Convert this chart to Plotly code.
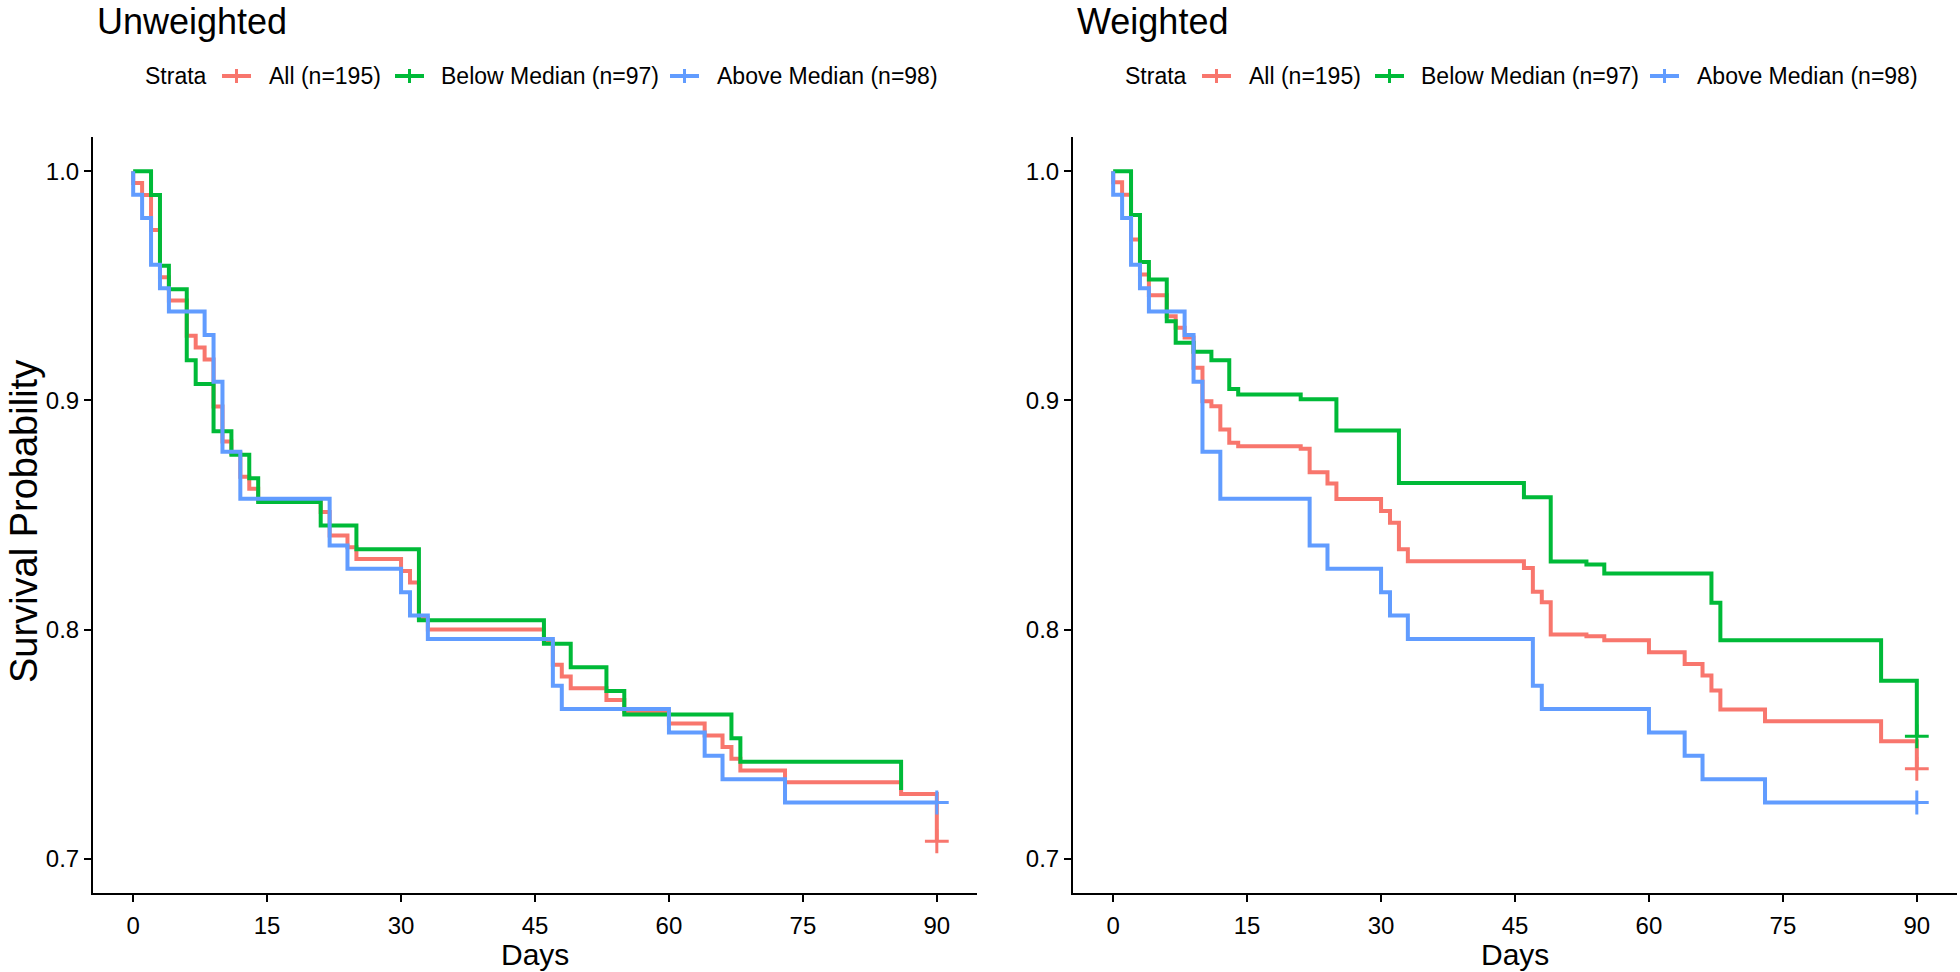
import plotly.graph_objects as go

# ---------------- data ----------------
strata_names = ["All (n=195)", "Below Median (n=97)", "Above Median (n=98)"]
strata_colors = ["#F8766D", "#00BA38", "#619CFF"]

# Unweighted
unw_all_days = [0, 0, 1, 2, 3, 4, 6, 7, 8, 9, 10, 11, 12, 13, 14, 21, 22, 24, 25, 30, 31, 32, 33,
                46, 47, 48, 49, 53, 55, 60, 64, 66, 67, 68, 73, 86, 90]
unw_all_surv = [1.0, 0.9949, 0.9897, 0.9744, 0.9538, 0.9436, 0.9282, 0.9231, 0.9179, 0.8974, 0.8821,
                0.8769, 0.8667, 0.8615, 0.8564, 0.8513, 0.8410, 0.8359, 0.8308, 0.8256, 0.8205, 0.8051,
                0.8000, 0.7949, 0.7846, 0.7795, 0.7744, 0.7692, 0.7641, 0.7590, 0.7538, 0.7487, 0.7436,
                0.7385, 0.7333, 0.7282, 0.7076]
unw_below_days = [0, 2, 3, 4, 6, 7, 9, 11, 13, 14, 21, 25, 32, 46, 49, 53, 55, 67, 68, 86]
unw_below_surv = [1.0, 0.9897, 0.9588, 0.9485, 0.9175, 0.9072, 0.8866, 0.8763, 0.8660, 0.8557, 0.8454,
                  0.8351, 0.8041, 0.7938, 0.7835, 0.7732, 0.7629, 0.7526, 0.7423, 0.7300]
unw_above_days = [0, 0, 1, 2, 3, 4, 8, 9, 10, 12, 22, 24, 30, 31, 33, 47, 48, 60, 64, 66, 73, 90]
unw_above_surv = [1.0, 0.9898, 0.9796, 0.9592, 0.9490, 0.9388, 0.9286, 0.9082, 0.8776, 0.8571, 0.8367,
                  0.8265, 0.8163, 0.8061, 0.7959, 0.7755, 0.7653, 0.7551, 0.7449, 0.7347, 0.7245, 0.7245]
unw_censor_days = [90, 90]
unw_censor_surv = [0.7076, 0.7245]
unw_censor_strata = [0, 2]

# Weighted
wt_all_days = [0, 0, 1, 2, 3, 4, 6, 7, 8, 9, 10, 11, 12, 13, 14, 21, 22, 24, 25, 30, 31, 32, 33,
               46, 47, 48, 49, 53, 55, 60, 64, 66, 67, 68, 73, 86, 90]
wt_all_surv = [1.0, 0.9952, 0.9898, 0.9703, 0.9550, 0.9459, 0.9368, 0.9317, 0.9275, 0.9143, 0.8997,
               0.8975, 0.8873, 0.8815, 0.8800, 0.8789, 0.8687, 0.8638, 0.8570, 0.8517, 0.8466, 0.8350,
               0.8298, 0.8269, 0.8165, 0.8119, 0.7978, 0.7971, 0.7953, 0.7901, 0.7850, 0.7799, 0.7734,
               0.7651, 0.7600, 0.7512, 0.7392]
wt_below_days = [0, 2, 3, 4, 6, 7, 9, 11, 13, 14, 21, 25, 32, 46, 49, 53, 55, 67, 68, 86, 90]
wt_below_surv = [1.0, 0.9810, 0.9604, 0.9528, 0.9346, 0.9252, 0.9213, 0.9176, 0.9050, 0.9026, 0.9005,
                 0.8869, 0.8640, 0.8577, 0.8297, 0.8284, 0.8245, 0.8117, 0.7953, 0.7777, 0.7534]
wt_above_days = unw_above_days
wt_above_surv = unw_above_surv
wt_censor_days = [90, 90, 90]
wt_censor_surv = [0.7392, 0.7534, 0.7245]
wt_censor_strata = [0, 1, 2]

panel_titles = ["Unweighted", "Weighted"]
x_ticks = [0, 15, 30, 45, 60, 75, 90]
y_ticks = [0.7, 0.8, 0.9, 1.0]
x_label = "Days"
y_label = "Survival Probability"
legend_title = "Strata"

# ---------------- figure ----------------
W, H = 1960, 972
FONT = "Liberation Sans, Arial, sans-serif"
LW = 4

fig = go.Figure()

panels = [
    dict(xa="x", ya="y",
         series=[(unw_all_days, unw_all_surv), (unw_below_days, unw_below_surv), (unw_above_days, unw_above_surv)],
         cens=(unw_censor_days, unw_censor_surv, unw_censor_strata)),
    dict(xa="x2", ya="y2",
         series=[(wt_all_days, wt_all_surv), (wt_below_days, wt_below_surv), (wt_above_days, wt_above_surv)],
         cens=(wt_censor_days, wt_censor_surv, wt_censor_strata)),
]

for p in panels:
    for i, (d, s) in enumerate(p["series"]):
        fig.add_trace(go.Scatter(
            x=d, y=s, mode="lines", name=strata_names[i],
            line=dict(color=strata_colors[i], width=LW, shape="hv"),
            xaxis=p["xa"], yaxis=p["ya"], showlegend=False, hoverinfo="x+y+name"))
    cd, cs, ci = p["cens"]
    for d, s, i in zip(cd, cs, ci):
        fig.add_trace(go.Scatter(
            x=[d], y=[s], mode="markers", name=strata_names[i],
            marker=dict(symbol="cross-thin", size=17, color=strata_colors[i],
                        line=dict(width=3, color=strata_colors[i])),
            xaxis=p["xa"], yaxis=p["ya"], showlegend=False))


def px(v):
    return v / W


def py(v):
    return 1 - v / H


ydom = [py(893), py(137)]
axis_common = dict(showline=True, linecolor="black", linewidth=2, ticks="outside", ticklen=7,
                   tickwidth=2, tickcolor="black", showgrid=False, zeroline=False,
                   tickfont=dict(size=24, color="black", family=FONT))

fig.update_layout(
    width=W, height=H,
    margin=dict(l=0, r=0, t=0, b=0),
    paper_bgcolor="white", plot_bgcolor="white",
    font=dict(family=FONT, color="black"),
    xaxis=dict(domain=[px(93), px(977)], range=[-4.5, 94.5], tickvals=x_ticks, anchor="y",
               ticklabelstandoff=3, **axis_common),
    yaxis=dict(domain=ydom, range=[0.685, 1.015], tickvals=y_ticks, tickformat=".1f", anchor="x",
               **axis_common),
    xaxis2=dict(domain=[px(1073), px(1957)], range=[-4.5, 94.5], tickvals=x_ticks, anchor="y2",
                ticklabelstandoff=3, **axis_common),
    yaxis2=dict(domain=ydom, range=[0.685, 1.015], tickvals=y_ticks, tickformat=".1f", anchor="x2",
                **axis_common),
    showlegend=False,
)

# ---- legends (one per panel, drawn as key glyphs + labels) ----
LEG_Y = 76
key_centers = [236.5, 409.5, 684.5]
text_starts = [269, 441, 717]
KEY_HALF = 14.5
annotations = []
shapes = []
for ox in (0, 980):
    annotations.append(dict(text=legend_title, x=px(ox + 143), y=py(LEG_Y), xref="paper", yref="paper",
                            xanchor="left", yanchor="middle", showarrow=False,
                            font=dict(size=23, family=FONT, color="black")))
    for i, name in enumerate(strata_names):
        c = ox + key_centers[i]
        shapes.append(dict(type="line", xref="paper", yref="paper",
                           x0=px(c - KEY_HALF), x1=px(c + KEY_HALF), y0=py(LEG_Y), y1=py(LEG_Y),
                           line=dict(color=strata_colors[i], width=LW)))
        shapes.append(dict(type="line", xref="paper", yref="paper",
                           x0=px(c), x1=px(c), y0=py(LEG_Y - 7), y1=py(LEG_Y + 7),
                           line=dict(color=strata_colors[i], width=3)))
        annotations.append(dict(text=name, x=px(ox + text_starts[i] - 2), y=py(LEG_Y), xref="paper",
                                yref="paper", xanchor="left", yanchor="middle", showarrow=False,
                                font=dict(size=23, family=FONT, color="black")))

for k, x0 in enumerate([95, 95 + 980]):
    annotations.append(dict(text=panel_titles[k], x=px(x0), y=py(22), xref="paper", yref="paper",
                            xanchor="left", yanchor="middle", showarrow=False,
                            font=dict(size=36, family=FONT, color="black")))
for xc in [(93 + 977) / 2, (1073 + 1957) / 2]:
    annotations.append(dict(text=x_label, x=px(xc), y=py(954), xref="paper", yref="paper",
                            xanchor="center", yanchor="middle", showarrow=False, borderpad=0,
                            font=dict(size=30, family=FONT, color="black")))
annotations.append(dict(text=y_label, x=px(24), y=py(522), xref="paper", yref="paper",
                        xanchor="center", yanchor="middle", textangle=-90, showarrow=False,
                        font=dict(size=38, family=FONT, color="black")))
fig.update_layout(annotations=annotations, shapes=shapes)

fig.write_html("out.html", config={"displayModeBar": False},
               post_script="document.body.style.margin='0px';")
